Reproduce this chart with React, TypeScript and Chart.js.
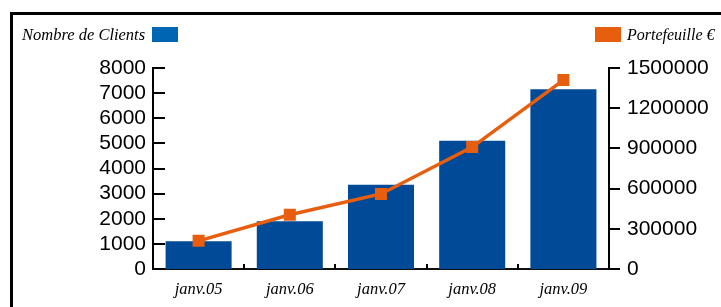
import React, { useEffect, useRef } from "react";
import { Chart, registerables } from "chart.js";

Chart.register(...registerables);

const categories = ["janv.05", "janv.06", "janv.07", "janv.08", "janv.09"];
const clients = [1100, 1900, 3350, 5100, 7150];
const portefeuille = [210000, 405000, 560000, 910000, 1410000];
const leftTicks = [0, 1000, 2000, 3000, 4000, 5000, 6000, 7000, 8000];
const rightTicks = [0, 300000, 600000, 900000, 1200000, 1500000];

const BAR = "#004A97";
const BAR_LEGEND = "#0066B3";
const ORANGE = "#E85E0F";

const tickMarks = {
  id: "tickMarks",
  afterDraw(chart: any) {
    const { ctx, chartArea } = chart;
    const y = chart.scales.y;
    const y1 = chart.scales.y1;
    const x = chart.scales.x;
    ctx.save();
    ctx.strokeStyle = "#000";
    ctx.lineWidth = 2;
    ctx.beginPath();
    leftTicks.forEach((v) => {
      const py = Math.round(y.getPixelForValue(v));
      ctx.moveTo(chartArea.left, py);
      ctx.lineTo(chartArea.left + 12, py);
    });
    rightTicks.forEach((v) => {
      const py = Math.round(y1.getPixelForValue(v));
      ctx.moveTo(chartArea.right, py);
      ctx.lineTo(chartArea.right + 11, py);
    });
    for (let i = 1; i < categories.length; i++) {
      const px = Math.round((x.getPixelForValue(i - 1) + x.getPixelForValue(i)) / 2);
      ctx.moveTo(px, chartArea.bottom);
      ctx.lineTo(px, chartArea.bottom - 5);
    }
    ctx.stroke();
    ctx.restore();
  },
};

export default function App() {
  const ref = useRef<HTMLCanvasElement | null>(null);
  useEffect(() => {
    if (!ref.current) return;
    const chart = new Chart(ref.current, {
      type: "bar",
      data: {
        labels: categories,
        datasets: [
          {
            type: "line",
            label: "Portefeuille €",
            data: portefeuille,
            yAxisID: "y1",
            borderColor: ORANGE,
            backgroundColor: ORANGE,
            borderWidth: 3.5,
            pointStyle: "rect",
            pointRadius: 8.5,
            pointBorderWidth: 0,
            pointBackgroundColor: ORANGE,
            tension: 0,
            order: 0,
          } as any,
          {
            type: "bar",
            label: "Nombre de Clients",
            data: clients,
            yAxisID: "y",
            backgroundColor: BAR,
            barPercentage: 0.724,
            categoryPercentage: 1,
            order: 1,
          },
        ],
      },
      options: {
        animation: false,
        responsive: false,
        maintainAspectRatio: false,
        layout: { padding: { top: 68, left: 0, right: 0, bottom: 0 } },
        plugins: { legend: { display: false }, tooltip: { enabled: false } },
        scales: {
          x: {
            grid: { display: false, drawTicks: false },
            border: { display: true, color: "#111", width: 2 },
            ticks: {
              padding: 11,
              color: "#000",
              font: { family: "'Liberation Serif'", style: "italic", size: 16.5 },
            },
            afterFit: (s: any) => {
              s.height = 38;
            },
          },
          y: {
            position: "left",
            min: 0,
            max: 8000,
            grid: { display: false, drawTicks: false },
            border: { display: true, color: "#000", width: 2 },
            ticks: {
              stepSize: 1000,
              autoSkip: false,
              padding: 7,
              color: "#000",
              font: { family: "'Liberation Sans'", size: 21 },
              callback: (v: any) => String(v),
            },
            afterFit: (s: any) => {
              s.width = 153;
            },
          },
          y1: {
            position: "right",
            min: 0,
            max: 1500000,
            grid: { display: false, drawTicks: false },
            border: { display: true, color: "#000", width: 2 },
            ticks: {
              stepSize: 300000,
              autoSkip: false,
              padding: 18,
              color: "#000",
              font: { family: "'Liberation Sans'", size: 21 },
              callback: (v: any) => String(v),
            },
            afterFit: (s: any) => {
              s.width = 112;
            },
          },
        },
      },
      plugins: [tickMarks],
    });
    return () => chart.destroy();
  }, []);

  const legendText: React.CSSProperties = {
    position: "absolute",
    fontFamily: "'Liberation Serif'",
    fontStyle: "italic",
    fontSize: 16.5,
    lineHeight: "16px",
    color: "#000",
    whiteSpace: "nowrap",
  };

  return (
    <div style={{ position: "absolute", left: 0, top: 0, width: 721, height: 307, overflow: "hidden", background: "#fff" }}>
      <div
        style={{
          position: "absolute",
          left: 10,
          top: 12,
          width: 800,
          height: 400,
          border: "3px solid #000",
          boxSizing: "border-box",
        }}
      />
      <canvas ref={ref} width={721} height={307} style={{ position: "absolute", left: 0, top: 0 }} />
      <div style={{ ...legendText, left: 22, top: 27 }}>Nombre de Clients</div>
      <div style={{ position: "absolute", left: 152, top: 27, width: 26, height: 15, background: BAR_LEGEND }} />
      <div style={{ position: "absolute", left: 595, top: 27, width: 26, height: 15, background: ORANGE }} />
      <div style={{ ...legendText, left: 627, top: 27, fontSize: 16 }}>Portefeuille €</div>
    </div>
  );
}
